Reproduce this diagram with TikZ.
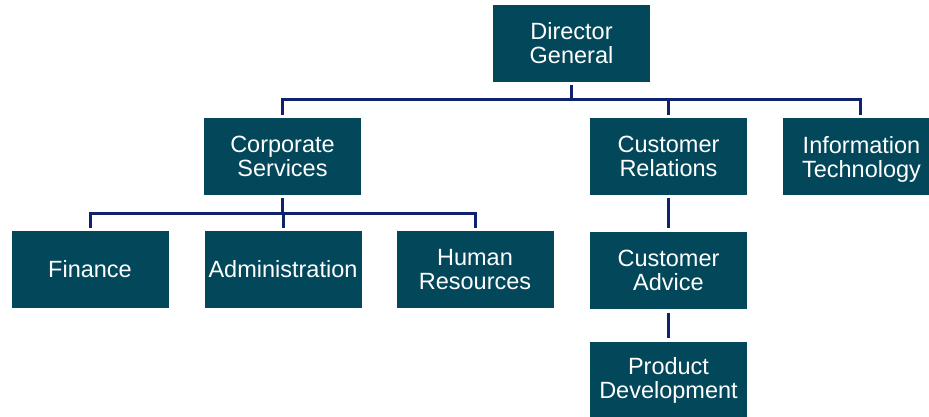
\documentclass[tikz,border=0pt]{standalone}
\usepackage{fontspec}
\setmainfont{Liberation Sans}
\definecolor{boxfill}{HTML}{03475A}
\definecolor{linkcol}{RGB}{14,34,110}
\begin{document}
\begin{tikzpicture}[x=1pt,y=-1pt,
  unit/.style={fill=boxfill, text=white, minimum width=157pt, minimum height=77pt,
    inner sep=0pt, align=center, font=\fontsize{23.5}{24}\selectfont},
  conn/.style={draw=linkcol, line width=3pt, shorten <=3pt, shorten >=3pt}]
\fill[white] (0,0) rectangle (929,416);
\useasboundingbox (0,0) rectangle (929,416);
\clip (0,0) rectangle (929,416);
\node[unit] (dg) at (571.5,43.5) {Director\\General};
\node[unit] (cs) at (282.5,156.5) {Corporate\\Services};
\node[unit] (cr) at (668.5,156.5) {Customer\\Relations};
\node[unit, text depth=0pt] (it) at (861.5,156.5) {Information\\Technology\rule[-5pt]{0pt}{0pt}};
\node[unit] (fin) at (90,269.5) {Finance};
\node[unit] (adm) at (283,269.5) {Administration};
\node[unit] (hr) at (475,269.5) {Human\\Resources};
\node[unit] (ca) at (668.5,270) {Customer\\Advice};
\node[unit] (pd) at (668.5,380.5) {Product\\Development};
% top level
\draw[conn] (dg.south) -- ++(0,17) -| (cs.north);
\draw[conn] (dg.south) -- ++(0,17) -| (cr.north);
\draw[conn] (dg.south) -- ++(0,17) -| ([xshift=-1.5pt]it.north);
% corporate services
\draw[conn] (cs.south) -- ++(0,18) -| (fin.north);
\draw[conn] (cs.south) -- ++(0,18) -| (adm.north);
\draw[conn] (cs.south) -- ++(0,18) -| (hr.north);
% customer relations chain
\draw[conn] (cr.south) -- (ca.north);
\draw[conn, shorten <=4pt, shorten >=4pt] (ca.south) -- (pd.north);
\end{tikzpicture}
\end{document}
